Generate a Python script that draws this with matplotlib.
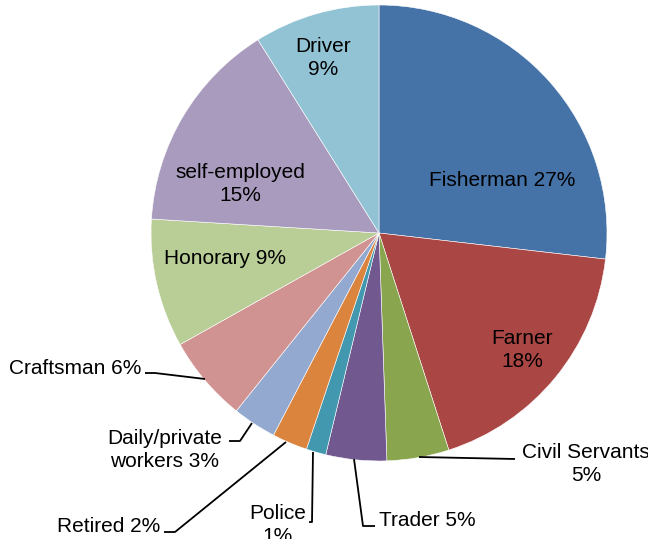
import matplotlib.pyplot as plt

plt.rcParams['font.family'] = ['Liberation Sans', 'DejaVu Sans']

### occupation shares (clockwise from 12 o'clock)
jobs = ['Fisherman', 'Farner', 'Civil Servants', 'Trader', 'Police', 'Retired',
        'Daily/private workers', 'Craftsman', 'Honorary', 'self-employed', 'Driver']
shares = [26.8, 18.2, 4.4, 4.3, 1.4, 2.5, 3.1, 6.1, 9.1, 15.1, 8.9]
labels = ['Fisherman 27%', 'Farner\n18%', 'Civil Servants\n5%', 'Trader 5%',
          'Police\n1%', 'Retired 2%', 'Daily/private\nworkers 3%', 'Craftsman 6%',
          'Honorary 9%', 'self-employed\n15%', 'Driver\n9%']
colors = ['#4572A7', '#AA4643', '#89A54E', '#71588F', '#4198AF', '#DB843D',
          '#93A9CF', '#D19392', '#B9CD96', '#A99BBD', '#92C3D5']

W, H = 648, 539
fig = plt.figure(figsize=(W / 100, H / 100), dpi=100)
ax = fig.add_axes([0, 0, 1, 1])

cx, cy, r = 379, H - 233, 228
ax.pie(shares, colors=colors, startangle=90, counterclock=False,
       center=(cx, cy), radius=r, frame=True,
       wedgeprops=dict(edgecolor='white', linewidth=0.4))
ax.set_xlim(0, W)
ax.set_ylim(0, H)
ax.set_aspect('equal')
ax.axis('off')

### label placement in pixel coords (x, y from top), alignment
spots = {
    'Fisherman': (502, 180, 'center'),
    'Farner': (522, 350, 'center'),
    'Civil Servants': (586, 464, 'center'),
    'Trader': (379, 520, 'left'),
    'Police': (278, 525, 'center'),
    'Retired': (160, 527, 'right'),
    'Daily/private workers': (165, 450, 'center'),
    'Craftsman': (141, 369, 'right'),
    'Honorary': (225, 258, 'center'),
    'self-employed': (240, 184, 'center'),
    'Driver': (323, 58, 'center'),
}
for job, lab in zip(jobs, labels):
    x, y, ha = spots[job]
    ax.text(x, H - y, lab, ha=ha, va='center', fontsize=15,
            linespacing=1.25, color='black')

### leader lines
leaders = [
    [(419, 457), (515, 459)],
    [(354, 459), (363, 526), (375, 526)],
    [(313, 452), (312, 522), (309, 522)],
    [(286, 442), (175, 532), (164, 532)],
    [(252, 423), (240, 441), (229, 441)],
    [(205, 379), (155, 373), (145, 373)],
]
for pts in leaders:
    xs = [p[0] for p in pts]
    ys = [H - p[1] for p in pts]
    ax.plot(xs, ys, color='black', linewidth=1.3, solid_capstyle='butt')

fig.savefig('out.png', dpi=100)
